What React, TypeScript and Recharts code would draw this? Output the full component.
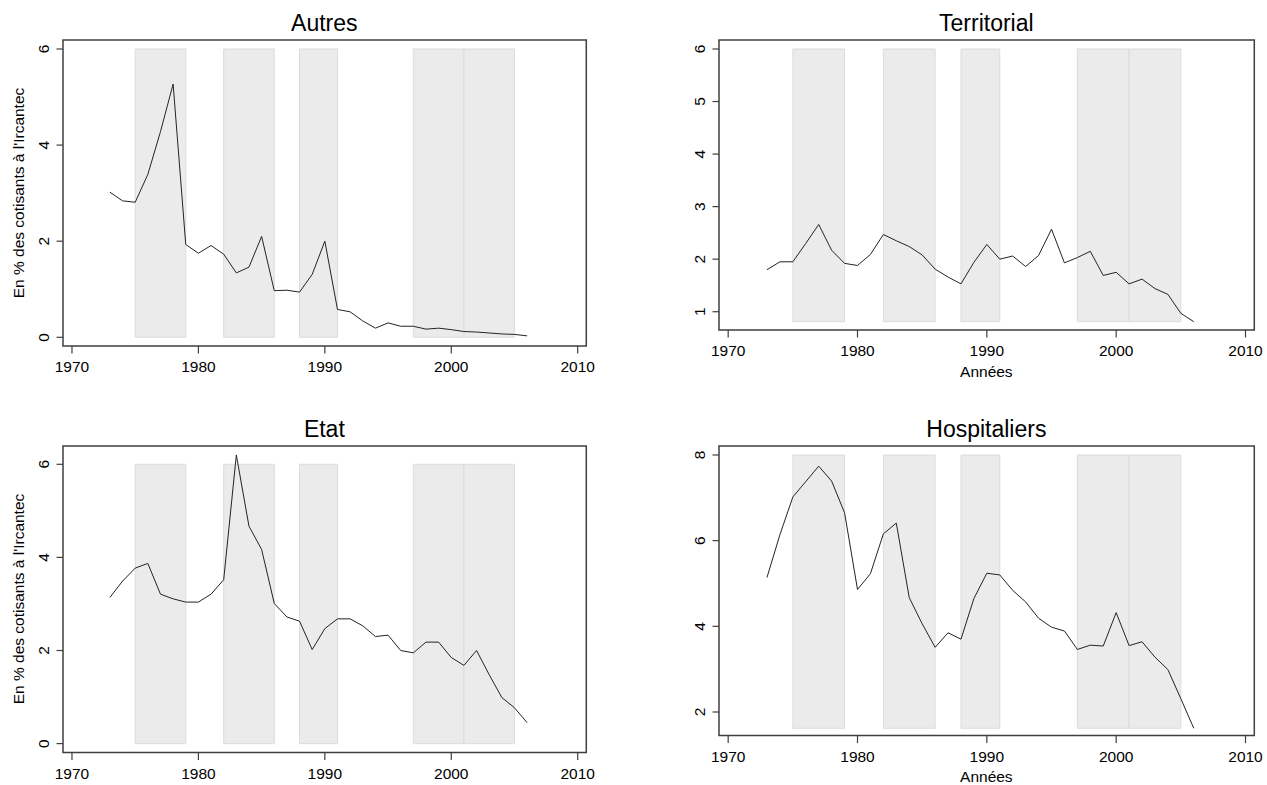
import { LineChart, Line, XAxis, YAxis, ReferenceArea } from "recharts";

const years = [
  1973, 1974, 1975, 1976, 1977, 1978, 1979, 1980, 1981, 1982, 1983, 1984,
  1985, 1986, 1987, 1988, 1989, 1990, 1991, 1992, 1993, 1994, 1995, 1996,
  1997, 1998, 1999, 2000, 2001, 2002, 2003, 2004, 2005, 2006,
];

const autres = [
  3.02, 2.84, 2.81, 3.39, 4.28, 5.27, 1.93, 1.75, 1.91, 1.73, 1.34, 1.46,
  2.1, 0.97, 0.98, 0.94, 1.31, 2.0, 0.58, 0.53, 0.34, 0.19, 0.3, 0.23,
  0.23, 0.17, 0.19, 0.16, 0.12, 0.11, 0.09, 0.07, 0.06, 0.03,
];

const territorial = [
  1.8, 1.95, 1.95, 2.3, 2.66, 2.17, 1.92, 1.88, 2.09, 2.47, 2.35, 2.24,
  2.08, 1.81, 1.66, 1.53, 1.94, 2.28, 2.0, 2.06, 1.86, 2.07, 2.57, 1.93,
  2.03, 2.15, 1.69, 1.75, 1.53, 1.62, 1.44, 1.33, 0.97, 0.81,
];

const etat = [
  3.14, 3.49, 3.77, 3.87, 3.21, 3.11, 3.04, 3.04, 3.21, 3.52, 6.2, 4.67,
  4.17, 3.01, 2.72, 2.63, 2.02, 2.47, 2.68, 2.68, 2.53, 2.3, 2.33, 2.0,
  1.95, 2.18, 2.18, 1.85, 1.68, 2.0, 1.48, 0.99, 0.77, 0.45,
];

const hospitaliers = [
  5.14, 6.14, 7.02, 7.38, 7.74, 7.39, 6.65, 4.86, 5.23, 6.16, 6.41, 4.67,
  4.06, 3.51, 3.85, 3.7, 4.65, 5.24, 5.2, 4.84, 4.57, 4.19, 3.98, 3.89,
  3.46, 3.56, 3.54, 4.32, 3.55, 3.64, 3.28, 2.99, 2.31, 1.62,
];

const xTicks = [1970, 1980, 1990, 2000, 2010];
const bandStarts = [1975, 1982, 1988, 1997, 2001];
const bandEnds = [1979, 1986, 1991, 2001, 2005];

const autresTicks = [0, 2, 4, 6];
const territorialTicks = [1, 2, 3, 4, 5, 6];
const etatTicks = [0, 2, 4, 6];
const hospitaliersTicks = [2, 4, 6, 8];

const yLabel = "En % des cotisants à l'Ircantec";
const xLabel = "Années";

const FONT = "'Liberation Sans', Arial, Helvetica, sans-serif";
const X_DOMAIN: [number, number] = [1969.29, 2010.68];
const FRAME = "#3f3f3f";

type Box = { left: number; top: number; right: number; bottom: number };

interface PanelProps {
  title: string;
  values: number[];
  yTicks: number[];
  yDomain: [number, number];
  box: Box;
}

function XTick(props: any) {
  const { x, y, payload } = props;
  return (
    <text x={x} y={y} dy={16.5} textAnchor="middle" fontSize={15.5} fill="#000" fontFamily={FONT}>
      {payload.value}
    </text>
  );
}

function YTick(props: any) {
  const { x, y, payload } = props;
  const cx = x - 11;
  return (
    <text
      x={cx}
      y={y}
      transform={`rotate(-90 ${cx} ${y})`}
      textAnchor="middle"
      dominantBaseline="central"
      fontSize={15.5}
      fill="#000"
      fontFamily={FONT}
    >
      {payload.value}
    </text>
  );
}

function Panel({ values, yTicks, yDomain, box }: PanelProps) {
  const rows = years.map((year, i) => ({ year, value: values[i] }));
  const bandLow = Math.min(yTicks[0], ...values);
  const bandHigh = yTicks[yTicks.length - 1];
  const w = box.right - box.left;
  const h = box.bottom - box.top;

  return (
    <div style={{ position: "absolute", left: box.left - 70, top: box.top - 40 }}>
      <LineChart
        width={w + 90}
        height={h + 80}
        data={rows}
        margin={{ top: 40, right: 20, bottom: 0, left: 10 }}
      >
        <XAxis
          type="number"
          dataKey="year"
          domain={X_DOMAIN}
          ticks={xTicks}
          allowDataOverflow
          interval={0}
          height={40}
          axisLine={false}
          tickSize={7.5}
          tickMargin={2}
          tickLine={{ stroke: FRAME, strokeWidth: 1.2 }}
          tick={(p: any) => <XTick {...p} />}
        />
        <YAxis
          type="number"
          domain={yDomain}
          ticks={yTicks}
          allowDataOverflow
          interval={0}
          width={60}
          axisLine={false}
          tickSize={6.5}
          tickMargin={2}
          tickLine={{ stroke: FRAME, strokeWidth: 1.2 }}
          tick={(p: any) => <YTick {...p} />}
        />
        {bandStarts.map((s, i) => (
          <ReferenceArea
            key={s}
            x1={s}
            x2={bandEnds[i]}
            y1={bandLow}
            y2={bandHigh}
            fill="#ebebeb"
            fillOpacity={1}
            stroke="#dcdcdc"
            strokeWidth={1}
          />
        ))}
        <ReferenceArea
          x1={X_DOMAIN[0]}
          x2={X_DOMAIN[1]}
          y1={yDomain[0]}
          y2={yDomain[1]}
          fill="none"
          stroke={FRAME}
          strokeWidth={1.5}
        />
        <Line
          type="linear"
          dataKey="value"
          stroke="#222"
          strokeWidth={1}
          dot={false}
          activeDot={false}
          isAnimationActive={false}
        />
      </LineChart>
    </div>
  );
}

const panels: (PanelProps & { yAxisTitle: boolean; xAxisTitle: boolean })[] = [
  {
    title: "Autres",
    values: autres,
    yTicks: autresTicks,
    yDomain: [-0.181, 6.187],
    box: { left: 62.7, top: 40, right: 586, bottom: 346 },
    yAxisTitle: true,
    xAxisTitle: false,
  },
  {
    title: "Territorial",
    values: territorial,
    yTicks: territorialTicks,
    yDomain: [0.652, 6.171],
    box: { left: 718.7, top: 40, right: 1254, bottom: 330 },
    yAxisTitle: false,
    xAxisTitle: true,
  },
  {
    title: "Etat",
    values: etat,
    yTicks: etatTicks,
    yDomain: [-0.193, 6.393],
    box: { left: 62.7, top: 445.7, right: 586, bottom: 752.3 },
    yAxisTitle: true,
    xAxisTitle: false,
  },
  {
    title: "Hospitaliers",
    values: hospitaliers,
    yTicks: hospitaliersTicks,
    yDomain: [1.449, 8.21],
    box: { left: 718.7, top: 445.7, right: 1254, bottom: 735.3 },
    yAxisTitle: false,
    xAxisTitle: true,
  },
];

export default function App() {
  return (
    <div
      style={{
        position: "absolute",
        left: 0,
        top: 0,
        width: 1267,
        height: 785,
        background: "#fff",
        fontFamily: FONT,
      }}
    >
      {panels.map((p) => (
        <Panel key={p.title} {...p} />
      ))}
      <svg
        width={1267}
        height={785}
        style={{ position: "absolute", left: 0, top: 0, pointerEvents: "none" }}
      >
        {panels.map((p) => {
          const cx = (p.box.left + p.box.right) / 2;
          const cy = (p.box.top + p.box.bottom) / 2;
          return (
            <g key={p.title} fontFamily={FONT} fill="#000">
              <text x={cx} y={p.box.top - 9} textAnchor="middle" fontSize={23}>
                {p.title}
              </text>
              {p.yAxisTitle && (
                <text
                  x={18}
                  y={cy}
                  transform={`rotate(-90 18 ${cy})`}
                  textAnchor="middle"
                  dominantBaseline="central"
                  fontSize={15.5}
                >
                  {yLabel}
                </text>
              )}
              {p.xAxisTitle && (
                <text
                  x={cx}
                  y={p.box.bottom + 41}
                  textAnchor="middle"
                  dominantBaseline="central"
                  fontSize={15.5}
                >
                  {xLabel}
                </text>
              )}
            </g>
          );
        })}
      </svg>
    </div>
  );
}
